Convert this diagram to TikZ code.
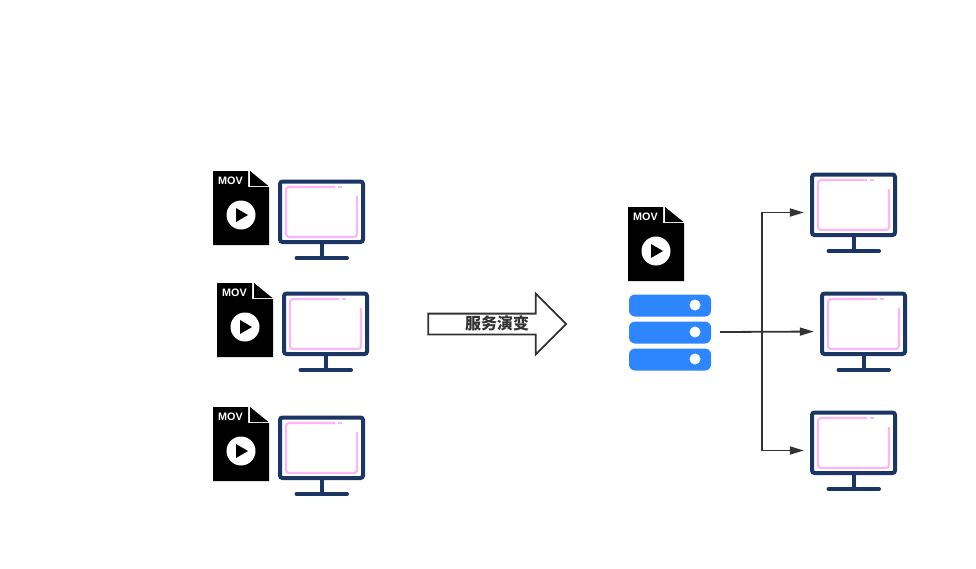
\documentclass[tikz,border=0pt]{standalone}
\usepackage{fontspec}
\setsansfont{Liberation Sans}
\newfontfamily\cjk{Noto Sans CJK SC}
\usetikzlibrary{arrows.meta,shapes.arrows}
\definecolor{navy}{HTML}{1B3564}
\definecolor{pinkline}{HTML}{FAB6F6}
\definecolor{srvblue}{HTML}{2E86FF}
\definecolor{linegray}{HTML}{333333}
\begin{document}
\begin{tikzpicture}[
		x=1pt, y=-1pt,
		r/.style = {-{Triangle[length=14pt,width=8pt]}, line width=1.8pt, draw=linegray, shorten >=6pt},
		bar/.style = {rectangle, fill=srvblue, rounded corners=6pt, minimum width=82pt, minimum height=22pt, inner sep=0pt},
		led/.style = {circle, fill=white, minimum size=11pt, inner sep=0pt},
		bigarrow/.style = {single arrow, draw=linegray, line width=1.8pt, fill=white, single arrow tip angle=90, single arrow head extend=20pt, minimum height=138pt, inner xsep=0pt, inner ysep=0pt, text width=100pt, align=center, text height=14.9pt, text depth=4.1pt, font=\cjk\bfseries\fontsize{16}{16}\selectfont, text=linegray},
		pics/monitor/.style = {code = {
			\node[minimum width=87pt, minimum height=81pt, inner sep=0pt] (-area) at (41.5, 38.5) {};
			\draw[navy, line width=4pt, rounded corners=2.5pt] (0, 0.5) rectangle (83, 61);
			\draw[navy, line width=4pt] (41.5, 61) -- (41.5, 77);
			\draw[navy, line width=4pt, line cap=round] (16.5, 77) -- (67, 77);
			\draw[pinkline, line width=2.2pt, rounded corners=3pt] (55, 6) -| (6, 56) -| (77, 15);
			\draw[pinkline, line width=2.2pt] (58, 6) -- (62, 6);
		}},
		pics/movfile/.style = {code = {
			\fill[black] (0, 0) -- (35, 0) -- (35, 16) -- (56, 16) -- (56, 74) -- (0, 74) -- cycle;
			\fill[black] (37, 0) -- (55.5, 15) -- (37, 15) -- cycle;
			\node[circle, fill=white, minimum size=29pt, inner sep=0pt] (-disc) at (28, 44) {};
			\fill[black] (23, 37) -- (35, 44) -- (23, 51) -- cycle;
			\node[text=white, inner sep=0pt, font=\sffamily\bfseries\fontsize{10.8}{10.8}\selectfont] (-label) at (17.5, 9.5) {MOV};
		}}
		]
		\useasboundingbox (0, 0) rectangle (976, 568);
		
		%Files
		\pic (file1) at (213, 171) {movfile};
		\pic (file2) at (217, 283) {movfile};
		\pic (file3) at (213, 407) {movfile};
		\pic (file4) at (628, 207) {movfile};
		
		%Monitors
		\pic (mon1) at (280, 181) {monitor};
		\pic (mon2) at (284, 293) {monitor};
		\pic (mon3) at (280, 417) {monitor};
		\pic (mon4) at (812, 174) {monitor};
		\pic (mon5) at (822, 293) {monitor};
		\pic (mon6) at (812, 412) {monitor};
		
		%Server
		\node[bar]	(bar1)	at (670, 305.5)	{};
		\node[bar]	(bar2)	at (670, 332.5)	{};
		\node[bar]	(bar3)	at (670, 359.5)	{};
		\node[led]	(led1)	at (695, 305)	{};
		\node[led]	(led2)	at (695, 332)	{};
		\node[led]	(led3)	at (695, 359)	{};
		
		%Arrow
		\node[bigarrow]	(evolve)	at (492, 324)	{\hspace*{10pt}服务演变};
		
		%Lines
		\coordinate (srvout) at (720, 332);
		\coordinate (fork) at (762, 332);
		\draw[r] (srvout) -- (mon5-area.west);
		\draw[r] (fork) |- (mon4-area.west);
		\draw[r] (fork) |- (mon6-area.west);
		
	\end{tikzpicture}
\end{document}
